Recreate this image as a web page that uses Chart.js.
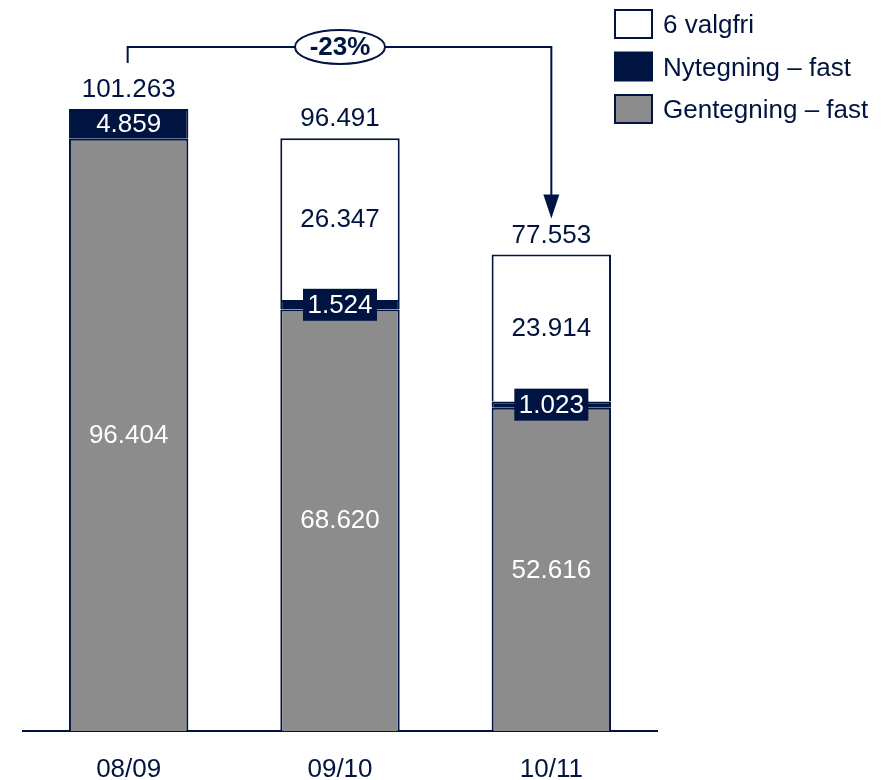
<!DOCTYPE html>
<html>
<head>
<meta charset="utf-8">
<script src="https://cdn.jsdelivr.net/npm/chart.js@4/dist/chart.umd.min.js"></script>
<style>
  html, body { margin: 0; padding: 0; background: #fff; }
  #wrap { width: 893px; height: 780px; position: relative; }
</style>
</head>
<body>
<div id="wrap"><canvas id="myChart" width="893" height="780"></canvas></div>
<script>
var ctx = document.getElementById('myChart').getContext('2d');

// periods and the three stacked series (bottom to top)
let periods = ['08/09', '09/10', '10/11']
let gentegning = [96.404, 68.620, 52.616]
let nytegning = [4.859, 1.524, 1.023]
let valgfri = [null, 26.347, 23.914]
let totals = [101.263, 96.491, 77.553]

const NAVY = '#001441'
const GREY = '#8c8c8c'
const FONT = '"Liberation Sans", Arial, sans-serif'

function fmt(v){
    return v.toFixed(3)
}

// value labels, the -23% bracket and the legend are painted on top
const overlay = {
    id: 'overlay',
    afterDatasetsDraw(chart){
        const c = chart.ctx
        const x = chart.scales.x
        c.save()
        c.font = '26px ' + FONT
        c.textAlign = 'center'
        c.textBaseline = 'middle'

        chart.data.datasets.forEach((ds, di) => {
            chart.getDatasetMeta(di).data.forEach((bar, i) => {
                const v = ds.data[i]
                if(v == null) return
                const top = Math.min(bar.y, bar.base)
                const bot = Math.max(bar.y, bar.base)
                const cy = (top + bot) / 2
                if(ds.label === 'Nytegning – fast'){
                    if(bot - top < 20){
                        c.fillStyle = NAVY
                        c.fillRect(bar.x - 37, cy - 16, 74, 32)
                    }
                    c.fillStyle = '#fff'
                } else if(ds.label === 'Gentegning – fast'){
                    c.fillStyle = '#fff'
                } else {
                    c.fillStyle = NAVY
                }
                c.fillText(fmt(v), bar.x, cy + 1)
            })
        })

        // totals above each bar
        const y = chart.scales.y
        c.fillStyle = NAVY
        totals.forEach((t, i) => {
            c.fillText(fmt(t), x.getPixelForValue(i), y.getPixelForValue(t) - 19)
        })

        // bracket from first to last bar
        const x0 = x.getPixelForValue(0)
        const x2 = x.getPixelForValue(2)
        const x1 = x.getPixelForValue(1)
        const yTop0 = y.getPixelForValue(totals[0])
        const yTop2 = y.getPixelForValue(totals[2])
        const yLine = yTop0 - 62
        const tip = yTop2 - 36
        c.strokeStyle = NAVY
        c.lineWidth = 2
        c.beginPath()
        c.moveTo(x0 - 1, yTop0 - 46)
        c.lineTo(x0 - 1, yLine)
        c.lineTo(x2, yLine)
        c.lineTo(x2, tip - 20)
        c.stroke()
        c.fillStyle = NAVY
        c.beginPath()
        c.moveTo(x2 - 8, tip - 24)
        c.lineTo(x2 + 8, tip - 24)
        c.lineTo(x2, tip)
        c.closePath()
        c.fill()

        c.beginPath()
        c.ellipse(x1, yLine, 45, 17, 0, 0, Math.PI * 2)
        c.fillStyle = '#fff'
        c.fill()
        c.stroke()
        const pct = Math.round((totals[2] / totals[0] - 1) * 100)
        c.fillStyle = NAVY
        c.font = 'bold 26px ' + FONT
        c.fillText(pct + '%', x1, yLine + 1)

        // legend, top right
        const items = [
            ['6 valgfri', '#fff'],
            ['Nytegning – fast', NAVY],
            ['Gentegning – fast', GREY]
        ]
        c.font = '26px ' + FONT
        c.textAlign = 'left'
        items.forEach((it, k) => {
            const ly = 10 + k * 42.5
            c.fillStyle = it[1]
            c.fillRect(615, ly, 37, 28)
            c.strokeStyle = NAVY
            c.lineWidth = 2
            c.strokeRect(615, ly, 37, 28)
            c.fillStyle = NAVY
            c.fillText(it[0], 663, ly + 16)
        })
        c.restore()
    }
}

var chart = new Chart(ctx, {
    type: 'bar',
    data: {
        labels: periods,
        datasets: [
            { label: 'Gentegning – fast', data: gentegning, backgroundColor: GREY, borderColor: NAVY, borderWidth: 2 },
            { label: 'Nytegning – fast', data: nytegning, backgroundColor: NAVY, borderColor: NAVY, borderWidth: 2 },
            { label: '6 valgfri', data: valgfri, backgroundColor: '#fff', borderColor: NAVY, borderWidth: 2 }
        ]
    },
    options: {
        responsive: false,
        animation: false,
        layout: { padding: { left: 23, right: 236, top: 0, bottom: 0 } },
        plugins: {
            legend: { display: false },
            tooltip: { enabled: false }
        },
        datasets: { bar: { barPercentage: 0.565, categoryPercentage: 1 } },
        scales: {
            x: {
                stacked: true,
                grid: { display: false, drawTicks: false },
                border: { display: true, color: NAVY, width: 2 },
                ticks: { color: NAVY, font: { size: 26, family: FONT }, padding: 23 },
                afterFit: (s) => { s.height = 49 }
            },
            y: {
                stacked: true,
                display: false,
                min: 0,
                max: 119
            }
        }
    },
    plugins: [overlay]
})
</script>
</body>
</html>
